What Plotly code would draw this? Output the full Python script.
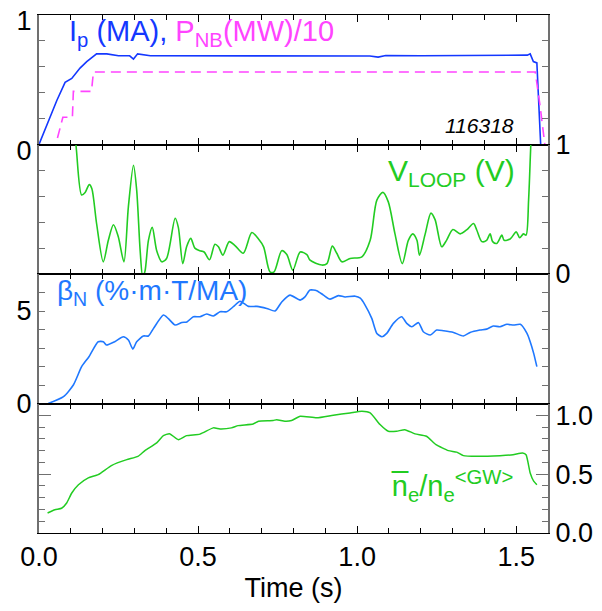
import plotly.graph_objects as go
from plotly.subplots import make_subplots

# ---------------- data ----------------
ip_t = [0.0, 0.035, 0.056, 0.082, 0.103, 0.129, 0.15, 0.181, 0.213, 0.25, 0.285, 0.297, 0.31, 0.35,
        0.45, 0.6, 0.8, 1.0, 1.04, 1.066, 1.09, 1.2, 1.3, 1.4, 1.5, 1.535, 1.544, 1.554, 1.565, 1.575, 1.577]
ip_v = [0.0, 0.21, 0.34, 0.48, 0.51, 0.59, 0.64, 0.70, 0.70, 0.685, 0.685, 0.66, 0.70, 0.685,
        0.685, 0.687, 0.685, 0.685, 0.683, 0.675, 0.687, 0.685, 0.687, 0.687, 0.687, 0.69, 0.70, 0.64, 0.63, 0.14, 0.0]

pnb_t = [0.058, 0.075, 0.082, 0.105, 0.108, 0.165, 0.171, 0.3, 0.6, 0.9, 1.2, 1.5, 1.56, 1.575, 1.59]
pnb_v = [0.05, 0.21, 0.21, 0.21, 0.41, 0.41, 0.56, 0.56, 0.56, 0.56, 0.56, 0.56, 0.56, 0.3, 0.0]

vl_t = [0.10, 0.116, 0.134, 0.145, 0.158, 0.166, 0.181, 0.202, 0.218, 0.234, 0.249, 0.267, 0.281, 0.297,
        0.307, 0.318, 0.326, 0.333, 0.344, 0.356, 0.37, 0.386, 0.401, 0.428, 0.438, 0.452, 0.464, 0.477,
        0.49, 0.506, 0.519, 0.536, 0.553, 0.564, 0.578, 0.598, 0.616, 0.642, 0.669, 0.69, 0.706, 0.726,
        0.739, 0.763, 0.779, 0.798, 0.821, 0.842, 0.852, 0.889, 0.905, 0.922, 0.936, 0.952, 0.978, 1.015,
        1.041, 1.062, 1.081, 1.098, 1.119, 1.142, 1.161, 1.175, 1.188, 1.196, 1.214, 1.232, 1.245, 1.266,
        1.281, 1.301, 1.324, 1.344, 1.366, 1.376, 1.392, 1.407, 1.418, 1.426, 1.439, 1.455, 1.462, 1.481,
        1.5, 1.511, 1.523, 1.531, 1.539, 1.546, 1.552]
vl_v = [1.3, 1.0, 0.61, 0.63, 0.69, 0.66, 0.39, 0.094, 0.26, 0.38, 0.29, 0.094, 0.52, 0.84,
        0.65, 0.18, -0.02, 0.02, 0.26, 0.36, 0.18, 0.094, 0.12, 0.43, 0.36, 0.08, 0.21, 0.275,
        0.2, 0.18, 0.17, 0.11, 0.23, 0.21, 0.146, 0.25, 0.22, 0.16, 0.32, 0.27, 0.21, 0.017,
        0.017, 0.18, 0.15, 0.03, 0.17, 0.15, 0.107, 0.069, 0.08, 0.215, 0.16, 0.094, 0.12, 0.133,
        0.26, 0.57, 0.63, 0.557, 0.31, 0.08, 0.26, 0.31, 0.26, 0.146, 0.31, 0.47, 0.42, 0.21,
        0.26, 0.344, 0.31, 0.34, 0.39, 0.34, 0.25, 0.26, 0.31, 0.25, 0.236, 0.30, 0.26, 0.27,
        0.325, 0.28, 0.31, 0.30, 0.57, 1.0, 1.3]

bn_t = [0.029, 0.077, 0.108, 0.134, 0.157, 0.186, 0.202, 0.212, 0.238, 0.265, 0.281, 0.295, 0.307, 0.328,
        0.344, 0.36, 0.391, 0.406, 0.428, 0.449, 0.465, 0.485, 0.506, 0.527, 0.548, 0.569, 0.59, 0.611,
        0.632, 0.658, 0.685, 0.716, 0.742, 0.763, 0.789, 0.821, 0.836, 0.852, 0.873, 0.894, 0.915, 0.941,
        0.962, 0.994, 1.01, 1.025, 1.046, 1.062, 1.078, 1.093, 1.114, 1.14, 1.156, 1.172, 1.193, 1.208,
        1.23, 1.25, 1.272, 1.303, 1.334, 1.355, 1.386, 1.407, 1.428, 1.449, 1.471, 1.492, 1.513, 1.534,
        1.544, 1.555, 1.565]
bn_v = [0.0, 0.37, 1.0, 1.99, 2.53, 3.34, 3.34, 3.16, 3.34, 3.61, 3.43, 2.94, 3.34, 3.65,
        3.65, 4.06, 4.78, 4.6, 4.24, 4.38, 4.41, 4.69, 4.69, 4.84, 4.73, 4.96, 4.96, 5.23,
        5.53, 5.25, 5.25, 5.14, 5.0, 5.49, 5.86, 5.59, 5.76, 6.13, 6.1, 5.86, 5.64, 5.83,
        5.76, 5.8, 5.69, 5.32, 4.6, 3.79, 3.61, 3.79, 4.33, 4.69, 4.33, 4.15, 4.37, 3.88,
        3.7, 3.97, 3.93, 3.84, 3.65, 3.84, 3.97, 4.02, 4.19, 4.15, 4.28, 4.24, 4.28, 3.79,
        3.34, 2.71, 1.99]

ne_t = [0.027, 0.05, 0.071, 0.087, 0.103, 0.124, 0.155, 0.186, 0.229, 0.276, 0.311, 0.333, 0.37, 0.391,
        0.41, 0.438, 0.464, 0.506, 0.548, 0.569, 0.605, 0.626, 0.673, 0.69, 0.736, 0.747, 0.773, 0.794,
        0.821, 0.873, 0.925, 0.978, 1.015, 1.041, 1.072, 1.098, 1.124, 1.15, 1.182, 1.218, 1.248, 1.287,
        1.313, 1.334, 1.376, 1.449, 1.49, 1.52, 1.531, 1.544, 1.555, 1.565]
ne_v = [0.17, 0.198, 0.21, 0.255, 0.34, 0.41, 0.468, 0.496, 0.575, 0.623, 0.651, 0.70, 0.765, 0.827,
        0.844, 0.793, 0.827, 0.84, 0.893, 0.884, 0.893, 0.912, 0.926, 0.949, 0.955, 0.963, 0.949, 0.955,
        0.992, 0.978, 1.0, 1.02, 1.034, 1.02, 0.921, 0.864, 0.864, 0.878, 0.842, 0.822, 0.751, 0.70,
        0.687, 0.657, 0.651, 0.657, 0.665, 0.68, 0.665, 0.51, 0.44, 0.41]

x_ticks = [0.0, 0.5, 1.0, 1.5]
x_ticklabels = ["0.0", "0.5", "1.0", "1.5"]

# ---------------- styling ----------------
FONT = "Liberation Sans, Arial, Helvetica, sans-serif"
C_IP = "#1438ff"
C_PNB = "#ff44ff"
C_GREEN = "#22cc22"
C_BN = "#1f78ff"
AX_GRAY = "#707070"

fig = make_subplots(rows=4, cols=1, shared_xaxes=True, vertical_spacing=0)

fig.add_trace(go.Scatter(x=ip_t, y=ip_v, mode="lines", line=dict(color=C_IP, width=1.6)), row=1, col=1)
fig.add_trace(go.Scatter(x=pnb_t, y=pnb_v, mode="lines",
                         line=dict(color=C_PNB, width=1.6, dash="10px,6px")), row=1, col=1)
fig.add_trace(go.Scatter(x=vl_t, y=vl_v, mode="lines",
                         line=dict(color=C_GREEN, width=1.6, shape="spline", smoothing=0.8)), row=2, col=1)
fig.add_trace(go.Scatter(x=bn_t, y=bn_v, mode="lines",
                         line=dict(color=C_BN, width=1.6, shape="spline", smoothing=0.6)), row=3, col=1)
fig.add_trace(go.Scatter(x=ne_t, y=ne_v, mode="lines",
                         line=dict(color=C_GREEN, width=1.5, shape="spline", smoothing=0.5)), row=4, col=1)

for r in range(1, 5):
    fig.update_xaxes(range=[0, 1.6], showline=True, linecolor="black", linewidth=1,
                     mirror="allticks", ticks="inside", ticklen=7, tickcolor="black", tickwidth=1.2,
                     tickvals=x_ticks, ticktext=x_ticklabels, showgrid=False, zeroline=False,
                     automargin=False, ticklabeloverflow="allow",
                     minor=dict(dtick=0.1, tick0=0, ticks="inside", ticklen=5, tickcolor="black", tickwidth=1.2),
                     showticklabels=(r == 4), tickfont=dict(family=FONT, size=27, color="black"),
                     row=r, col=1)

fig.update_xaxes(title=dict(text="Time (s)", font=dict(family=FONT, size=27, color="black"), standoff=6),
                 row=4, col=1)

yax_common = dict(showline=True, linecolor=AX_GRAY, linewidth=2, mirror="allticks", ticks="inside",
                  tickcolor=AX_GRAY, tickwidth=1.2, showgrid=False, zeroline=False, automargin=False,
                  ticklabeloverflow="allow",
                  tickfont=dict(family=FONT, size=27, color="black"))

fig.update_yaxes(range=[0, 1], tickvals=[0, 1], ticktext=["0", "1"], ticklen=6, side="left",
                 ticklabelshift=6,
                 minor=dict(dtick=0.2, tick0=0, ticks="inside", ticklen=6, tickcolor=AX_GRAY),
                 row=1, col=1, **yax_common)
fig.update_yaxes(range=[0, 1], tickvals=[0, 1], ticktext=["0", "1"], ticklen=6, side="right",
                 minor=dict(dtick=0.2, tick0=0, ticks="inside", ticklen=6, tickcolor=AX_GRAY),
                 row=2, col=1, **yax_common)
fig.update_yaxes(range=[0, 7], tickvals=[0, 5], ticktext=["0", "5"], ticklen=6, side="left",
                 minor=dict(dtick=1, tick0=0, ticks="inside", ticklen=6, tickcolor=AX_GRAY),
                 row=3, col=1, **yax_common)
fig.update_yaxes(range=[0, 1.1], tickvals=[0, 0.5, 1.0], ticktext=["0.0", "0.5", "1.0"], ticklen=12,
                 side="right",
                 minor=dict(dtick=0.1, tick0=0, ticks="inside", ticklen=6, tickcolor=AX_GRAY),
                 row=4, col=1, **yax_common)

annots = [
    dict(xref="x", yref="y", x=0.088, y=0.86, xanchor="left", yanchor="middle",
         text=f'<span style="color:{C_IP}">I<sub>p</sub> (MA), </span>'
              f'<span style="color:{C_PNB}">P<sub>NB</sub>(MW)/10</span>',
         font=dict(family=FONT, size=29)),
    dict(xref="x", yref="y", x=1.384, y=0.15, xanchor="center", yanchor="middle",
         text="<i>116318</i>", font=dict(family=FONT, size=21, color="black")),
    dict(xref="x2", yref="y2", x=1.09, y=0.78, xanchor="left", yanchor="middle",
         text="V<sub>LOOP</sub> (V)", font=dict(family=FONT, size=30, color=C_GREEN)),
    dict(xref="x3", yref="y3", x=0.05, y=6.0, xanchor="left", yanchor="middle",
         text="β<sub>N</sub> (%·m·T/MA)", font=dict(family=FONT, size=28, color=C_BN)),
    dict(xref="x4", yref="y4", x=1.10, y=0.40, xanchor="left", yanchor="middle",
         text="n\u0305<sub>e</sub>/n<sub>e</sub><sup>&lt;GW&gt;</sup>", font=dict(family=FONT, size=29, color=C_GREEN)),
]
for a in annots:
    a["showarrow"] = False
    fig.add_annotation(**a)

# the page body adds an 8px offset; margins compensate so the frame lands where the reference has it
fig.update_layout(width=602, height=611, margin=dict(l=31, r=62, t=7, b=86),
                  paper_bgcolor="white", plot_bgcolor="white", showlegend=False)

fig.write_html("out.html")
